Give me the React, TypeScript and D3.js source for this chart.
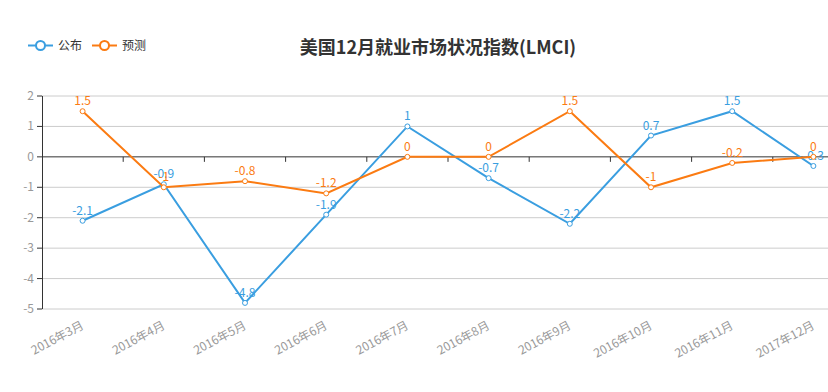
import React from "react";
import * as d3 from "d3";

const width = 828, height = 392;

const categories = ["2016年3月", "2016年4月", "2016年5月", "2016年6月", "2016年7月", "2016年8月", "2016年9月", "2016年10月", "2016年11月", "2017年12月"];
const published = [-2.1, -0.9, -4.8, -1.9, 1, -0.7, -2.2, 0.7, 1.5, -0.3];
const forecast = [1.5, -1, -0.8, -1.2, 0, 0, 1.5, -1, -0.2, 0];
const yTicks = [2, 1, 0, -1, -2, -3, -4, -5];

const blue = "#3a9ee0";
const orange = "#fb7b12";
const font = "'Noto Sans CJK SC', 'Microsoft YaHei', sans-serif";

const series = [
  { name: "公布", values: published, color: blue },
  { name: "预测", values: forecast, color: orange },
];

const App = () => {
  const x = d3.scaleBand().domain(categories).range([42, 854]);
  const y = d3.scaleLinear().domain([-5, 2]).range([309, 96]);
  const cx = (c: string) => (x(c) as number) + x.bandwidth() / 2;

  const line = d3.line<number>()
    .x((d, i) => cx(categories[i]))
    .y(d => y(d));

  return (
    <svg width={width} height={height} style={{ position: "absolute", left: 0, top: 0, fontFamily: font }}>
      <rect width={width} height={height} fill="#fff" />

      {/* title */}
      <text x={438} y={54} textAnchor="middle" fontSize={18} fontWeight="bold" fill="#333">
        美国12月就业市场状况指数(LMCI)
      </text>

      {/* legend */}
      {series.map((s, i) => {
        const lx = 28 + i * 64;
        return <g key={s.name}>
          <line x1={lx} x2={lx + 25} y1={45.5} y2={45.5} stroke={s.color} strokeWidth={2} />
          <circle cx={lx + 12.5} cy={45.5} r={4.5} fill="#fff" stroke={s.color} strokeWidth={2} />
          <text x={lx + 30} y={50} fontSize={12} fill="#333">{s.name}</text>
        </g>
      })}

      {/* grid */}
      {yTicks.map(t => (
        <line key={t} x1={42} x2={width} y1={y(t)} y2={y(t)} stroke={t === 0 ? "#333" : "#ccc"} strokeWidth={1} />
      ))}

      {/* y axis */}
      <line x1={42.5} x2={42.5} y1={y(2)} y2={y(-5)} stroke="#333" />
      {yTicks.map(t => (
        <g key={t}>
          <line x1={37} x2={42} y1={y(t)} y2={y(t)} stroke="#333" />
          <text x={34} y={y(t) + 4} textAnchor="end" fontSize={12} fill="#999">{t}</text>
        </g>
      ))}

      {/* x axis ticks on zero line */}
      {categories.slice(1).map(c => (
        <line key={c} x1={x(c)} x2={x(c)} y1={y(0)} y2={y(0) + 5} stroke="#333" />
      ))}

      {/* x labels */}
      {categories.map(c => (
        <text key={c} fontSize={12} fill="#999" textAnchor="end"
          transform={`translate(${cx(c) + 2},${y(-5) + 19}) rotate(-28)`}>{c}</text>
      ))}

      {/* lines */}
      {series.map(s => (
        <g key={s.name}>
          <path d={line(s.values) as string} fill="none" stroke={s.color} strokeWidth={2} />
          {s.values.map((v, i) => (
            <circle key={i} cx={cx(categories[i])} cy={y(v)} r={2.5} fill="#fff" stroke={s.color} strokeWidth={1} />
          ))}
          {s.values.map((v, i) => (
            <text key={"l" + i} x={cx(categories[i])} y={y(v) - 6} textAnchor="middle" fontSize={12} fill={s.color}>{v}</text>
          ))}
        </g>
      ))}
    </svg>
  );
};

export default App;
